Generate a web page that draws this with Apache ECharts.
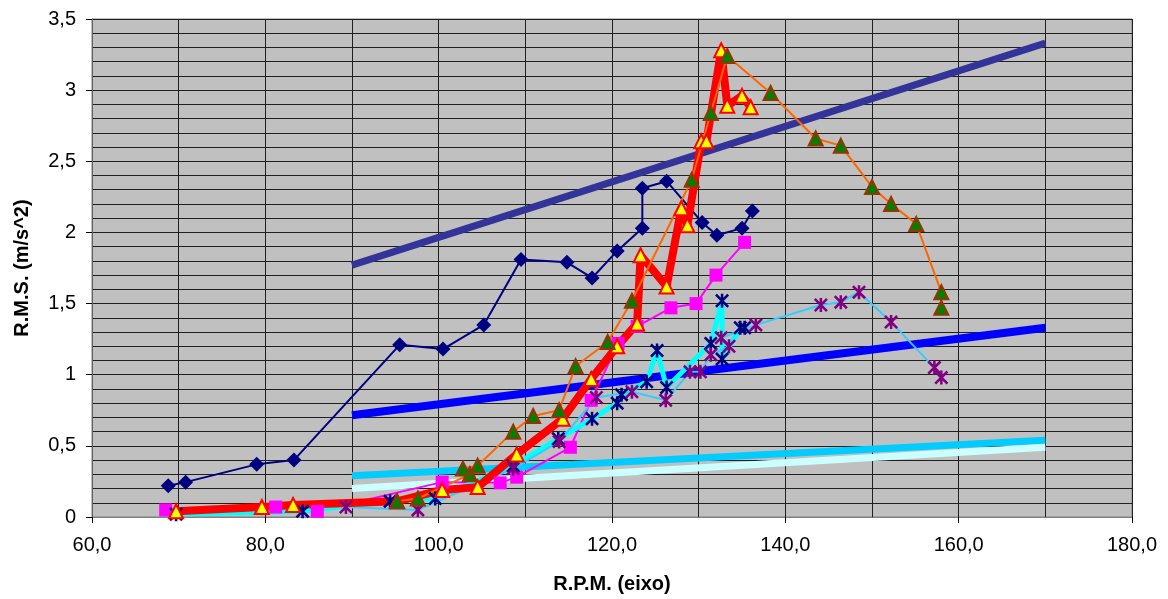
<!DOCTYPE html>
<html>
<head>
<meta charset="utf-8">
<script src="https://cdn.jsdelivr.net/npm/echarts@6/dist/echarts.min.js"></script>
<style>html,body{margin:0;padding:0;background:#fff}#c{width:1168px;height:599px}</style>
</head>
<body>
<div id="c"></div>
<script>
// Data series: [rpm, rms]
const navyDiamonds = [[68.8,0.22],[70.8,0.245],[79.0,0.37],[83.3,0.40],[95.5,1.21],[100.5,1.18],[105.2,1.35],[109.5,1.81],[114.8,1.79],[117.7,1.68],[120.6,1.87],[123.5,2.03],[123.5,2.31],[126.3,2.36],[130.4,2.07],[132.1,1.98],[135.0,2.03],[136.2,2.15]];
const magentaSquares = [[68.5,0.05],[81.2,0.07],[86.0,0.04],[100.4,0.245],[107.1,0.24],[109.0,0.28],[115.2,0.49],[117.6,0.82],[120.7,1.22],[122.9,1.34],[126.8,1.47],[129.7,1.50],[132.0,1.70],[135.3,1.93]];
const redTriangles = [[69.7,0.04],[79.6,0.07],[83.2,0.085],[95.2,0.11],[100.4,0.19],[104.5,0.21],[109.0,0.44],[114.3,0.69],[117.6,0.97],[120.6,1.2],[122.9,1.36],[123.3,1.84],[126.3,1.62],[128.0,2.17],[128.7,2.05],[130.3,2.64],[130.9,2.64],[132.6,3.28],[133.3,2.89],[135.0,2.96],[136.0,2.88]];
const cyanNavyStars = [[69.7,0.02],[84.3,0.04],[94.4,0.11],[99.6,0.13],[108.6,0.36],[113.8,0.55],[117.7,0.69],[120.6,0.80],[121.1,0.86],[124.0,0.95],[125.2,1.17],[126.3,0.91],[131.4,1.22],[132.7,1.52],[132.7,1.11],[134.8,1.33],[135.3,1.33]];
const purpleStars = [[89.3,0.07],[97.6,0.05],[108.6,0.34],[113.9,0.53],[118.2,0.84],[122.3,0.88],[126.2,0.82],[129.0,1.02],[130.2,1.02],[131.4,1.14],[133.5,1.20],[132.6,1.26],[136.6,1.35],[144.1,1.49],[146.4,1.51],[148.5,1.58],[152.2,1.37],[157.2,1.05],[158.0,0.98]];
const orangeGreen = [[95.2,0.11],[97.6,0.13],[103.6,0.30],[102.8,0.34],[104.5,0.36],[108.6,0.60],[110.9,0.71],[113.9,0.75],[115.8,1.06],[119.5,1.23],[122.3,1.52],[129.2,2.37],[131.4,2.84],[133.3,3.24],[138.3,2.98],[143.5,2.66],[146.4,2.61],[150.0,2.32],[152.2,2.20],[155.1,2.06],[158.0,1.58],[158.0,1.47]];
// Trend lines
const trendSlate = [[90,1.77],[170,3.33]];
const trendBlue = [[90,0.715],[170,1.33]];
const trendSky = [[90,0.29],[170,0.54]];
const trendPale = [[90,0.20],[170,0.49]];

const xTitle = 'R.P.M. (eixo)';
const yTitle = 'R.M.S. (m/s^2)';

const STAR = 'path://M4.1 0 L5.9 0 L5.9 10 L4.1 10 Z M0 1.3 L1.3 0 L10 8.7 L8.7 10 Z M8.7 0 L10 1.3 L1.3 10 L0 8.7 Z';
const FONT = 'Liberation Sans, Arial, sans-serif';

function lineS(data, color, width, z) {
  return {type:'line', data:data, symbol:'none', z:z||2, lineStyle:{color:color, width:width}, silent:true};
}
function markS(data, symbol, size, fill, border, bw) {
  return {type:'scatter', data:data, symbol:symbol, symbolSize:size, z:3,
    itemStyle:{color:fill, borderColor:border||fill, borderWidth:bw||0, opacity:1}, silent:true};
}

const chart = echarts.init(document.getElementById('c'), null, {renderer:'canvas'});
chart.setOption({
  animation:false,
  backgroundColor:'#ffffff',
  grid:{left:92, right:36, top:19, bottom:81, show:true, backgroundColor:'#C0C0C0', borderColor:'#808080', borderWidth:1},
  xAxis:{type:'value', min:60, max:180, interval:20,
    name:xTitle, nameLocation:'middle', nameGap:57,
    nameTextStyle:{fontFamily:FONT, fontSize:20, fontWeight:'bold', color:'#000'},
    axisLine:{show:true, onZero:false, lineStyle:{color:'#808080', width:1}},
    axisTick:{show:true, length:6, lineStyle:{color:'#000'}},
    axisLabel:{fontFamily:FONT, fontSize:20, color:'#000', margin:18,
      formatter:function(v){return v.toFixed(1).replace('.',',');}},
    splitLine:{show:true, lineStyle:{color:'#202020', width:1}},
    minorTick:{show:false, splitNumber:2},
    minorSplitLine:{show:true, lineStyle:{color:'#202020', width:1}}
  },
  yAxis:{type:'value', min:0, max:3.5, interval:0.5,
    name:yTitle, nameLocation:'middle', nameGap:60, nameRotate:90,
    nameTextStyle:{fontFamily:FONT, fontSize:20, fontWeight:'bold', color:'#000'},
    axisLine:{show:true, onZero:false, lineStyle:{color:'#606060', width:1}},
    axisTick:{show:true, length:6, lineStyle:{color:'#000'}},
    axisLabel:{fontFamily:FONT, fontSize:20, color:'#000', margin:16,
      formatter:function(v){return String(v).replace('.',',');}},
    splitLine:{show:true, lineStyle:{color:'#202020', width:1}},
    minorTick:{show:false, splitNumber:5},
    minorSplitLine:{show:true, lineStyle:{color:'#202020', width:1}}
  },
  series:[
    lineS(trendSlate, '#333399', 7, 1),
    lineS(trendBlue, '#0000FF', 8, 1),
    lineS(trendSky, '#00CCFF', 7, 1),
    lineS(trendPale, '#CCFFFF', 7, 1),
    lineS(navyDiamonds, '#000080', 2),
    lineS(magentaSquares, '#FF00FF', 2),
    lineS(cyanNavyStars, '#00FFFF', 5),
    lineS(purpleStars, '#33CCFF', 2),
    lineS(redTriangles, '#FF0000', 8),
    lineS(orangeGreen, '#FF6600', 2),
    markS(navyDiamonds, 'diamond', 15, '#000080'),
    markS(magentaSquares, 'rect', 13, '#FF00FF'),
    markS(cyanNavyStars, STAR, 14, '#000080'),
    markS(purpleStars, STAR, 14, '#800080'),
    markS(redTriangles, 'triangle', 14, '#FFFF00', '#FF0000', 2),
    markS(orangeGreen, 'triangle', 14, '#008000', '#993300', 2)
  ]
});
</script>
</body>
</html>
